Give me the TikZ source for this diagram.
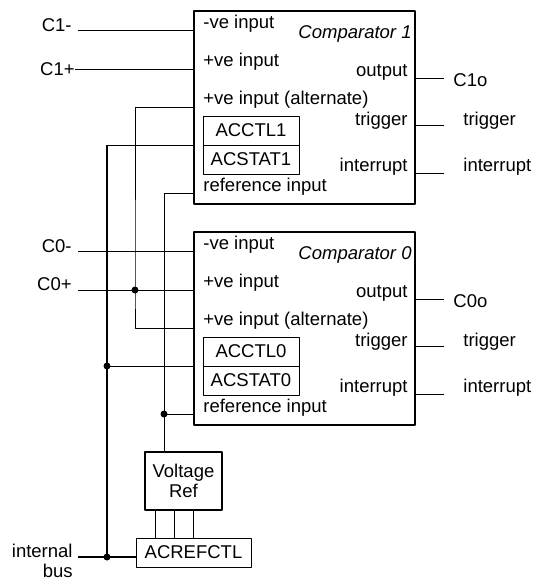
\documentclass[tikz,border=0pt]{standalone}
\usepackage{fontspec}
\setmainfont{Liberation Sans}
\begin{document}
\begin{tikzpicture}[x=0.5pt, y=-0.5pt, font=\fontsize{9.25}{10}\selectfont, line join=round,
	wire/.style={line width=0.5pt},
	bus/.style={line width=1pt},
	lbl/.style={inner sep=0pt},
	cmpbox/.style={draw, line width=1.2pt, anchor=north west, minimum width=110.5pt, minimum height=96.5pt, inner sep=0pt},
	regbox/.style={draw, line width=0.5pt, minimum width=48pt, minimum height=14.5pt, inner sep=0pt},
	dot/.style={circle, fill, inner sep=0pt, minimum size=3.5pt}]
	\useasboundingbox (0,0) rectangle (533,579);
	% pins of comparator 1
	\coordinate (neg1) at (193,30);
	\coordinate (pos1) at (193,69);
	\coordinate (alt1) at (193,107);
	\coordinate (ctl1) at (193,145);
	\coordinate (ref1) at (193,193);
	\coordinate (out1) at (414,78);
	\coordinate (trg1) at (414,125);
	\coordinate (int1) at (414,173);
	% pins of comparator 0
	\coordinate (neg0) at (193,251);
	\coordinate (pos0) at (193,290);
	\coordinate (alt0) at (193,328);
	\coordinate (ctl0) at (193,366);
	\coordinate (ref0) at (193,414);
	\coordinate (out0) at (414,299);
	\coordinate (trg0) at (414,346);
	\coordinate (int0) at (414,394);
	% free ends and joints
	\coordinate (C1m) at (78,30);
	\coordinate (C0m) at (78,251);
	\coordinate (C0p) at (78,290);
	\coordinate (out1e) at (444,78);
	\coordinate (trg1e) at (444,125);
	\coordinate (int1e) at (444,173);
	\coordinate (out0e) at (444,299);
	\coordinate (trg0e) at (444,346);
	\coordinate (int0e) at (444,394);
	\coordinate (j1) at (135,290);
	\coordinate (j2) at (107,366);
	\coordinate (j3) at (107,557);
	\coordinate (j4) at (164,414);
	\coordinate (ibus) at (78,557);
	% wires
	\draw[wire] (C1m)--(neg1) (C0m)--(neg0) (C0p)--(pos0);
	\draw[wire] (alt1) -| (j1) |- (alt0);
	\draw[wire] (ctl1)--(ctl1 -| j2) (ctl0)--(j2);
	\draw[bus] (ctl1 -| j2)--(j3);
	\draw[wire] (ref1) -| (j4) (ref0)--(j4);
	\draw[wire] (out1)--(out1e) (trg1)--(trg1e) (int1)--(int1e);
	\draw[wire] (out0)--(out0e) (trg0)--(trg0e) (int0)--(int0e);
	% comparator 1
	\node[cmpbox] (cmp1) at (193,10) {};
	\node[lbl, anchor=base east, font=\fontsize{9.25}{10}\selectfont\itshape] (name1) at (412,38) {Comparator 1};
	\node[lbl, anchor=base west] (tneg1) at (203,28) {-ve input};
	\node[lbl, anchor=base west] (tpos1) at (203,66) {+ve input};
	\node[lbl, anchor=base west] (talt1) at (203,104) {+ve input (alternate)};
	\node[regbox] (acctl1) at (251,130.5) {ACCTL1};
	\node[regbox] (acstat1) at (251,159.5) {ACSTAT1};
	\node[lbl, anchor=base west] (tref1) at (203,191) {reference input};
	\node[lbl, anchor=base east] (tout1) at (408,76) {output};
	\node[lbl, anchor=base east] (ttrg1) at (408,125) {trigger};
	\node[lbl, anchor=base east] (tint1) at (408,171) {interrupt};
	% comparator 0
	\node[cmpbox] (cmp0) at (193,231) {};
	\node[lbl, anchor=base east, font=\fontsize{9.25}{10}\selectfont\itshape] (name0) at (412,259) {Comparator 0};
	\node[lbl, anchor=base west] (tneg0) at (203,249) {-ve input};
	\node[lbl, anchor=base west] (tpos0) at (203,287) {+ve input};
	\node[lbl, anchor=base west] (talt0) at (203,325) {+ve input (alternate)};
	\node[regbox] (acctl0) at (251,351.5) {ACCTL0};
	\node[regbox] (acstat0) at (251,380.5) {ACSTAT0};
	\node[lbl, anchor=base west] (tref0) at (203,412) {reference input};
	\node[lbl, anchor=base east] (tout0) at (408,297) {output};
	\node[lbl, anchor=base east] (ttrg0) at (408,346) {trigger};
	\node[lbl, anchor=base east] (tint0) at (408,392) {interrupt};
	% outside labels
	\node[lbl, anchor=base east] (lC1m) at (72,31) {C1-};
	\node[lbl, anchor=east] (lC1p) at (75,69) {C1+};
	\draw[wire] (lC1p)--(pos1);
	\node[lbl, anchor=base east] (lC0m) at (72,252) {C0-};
	\node[lbl, anchor=base east] (lC0p) at (72,290) {C0+};
	\node[lbl, anchor=base west] (lout1) at (453,86) {C1o};
	\node[lbl, anchor=base west] (ltrg1) at (463,125) {trigger};
	\node[lbl, anchor=base west] (lint1) at (463,171) {interrupt};
	\node[lbl, anchor=base west] (lout0) at (453,307) {C0o};
	\node[lbl, anchor=base west] (ltrg0) at (463,346) {trigger};
	\node[lbl, anchor=base west] (lint0) at (463,392) {interrupt};
	% reference and bus
	\node[draw, line width=1.2pt, minimum width=38.5pt, minimum height=29pt, inner sep=0pt, align=center] (vref) at (183.5,481) {Voltage\\Ref};
	\node[draw, line width=0.5pt, minimum width=57.5pt, minimum height=14.5pt, inner sep=0pt] (acref) at (193.5,552.5) {ACREFCTL};
	\draw[wire] (j4)--(j4 |- vref.north);
	\draw[wire] ([xshift=-14.25pt]vref.south)--([xshift=-14.25pt]vref.south |- acref.north)
		([xshift=-4.75pt]vref.south)--([xshift=-4.75pt]vref.south |- acref.north)
		([xshift=4.75pt]vref.south)--([xshift=4.75pt]vref.south |- acref.north);
	\draw[bus] (ibus)--(acref.west |- j3);
	\node[lbl, anchor=north east, align=right] (lbus) at (73,543.5) {internal\\bus};
	\node[dot] (d1) at (j1) {};
	\node[dot] (d2) at (j2) {};
	\node[dot] (d3) at (j3) {};
	\node[dot] (d4) at (j4) {};
\end{tikzpicture}
\end{document}
